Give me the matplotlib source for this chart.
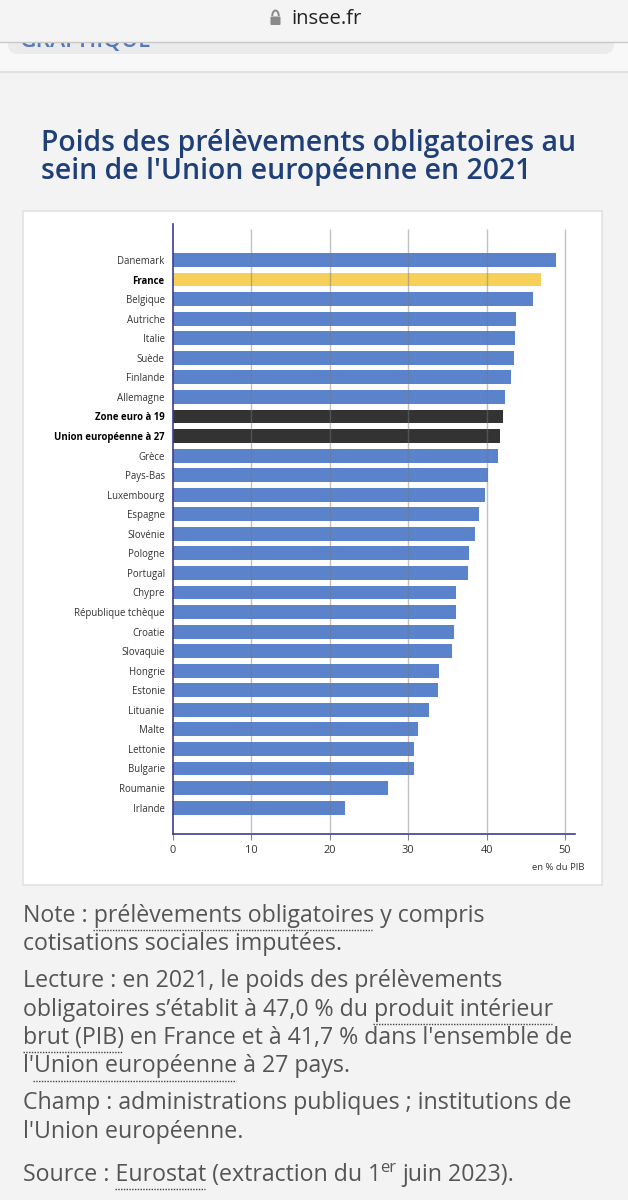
import matplotlib.pyplot as plt
import matplotlib.patches as patches

# Data, from top to bottom
pays = ['Danemark', 'France', 'Belgique', 'Autriche', 'Italie', 'Suède', 'Finlande', 'Allemagne',
        'Zone euro à 19', 'Union européenne à 27', 'Grèce', 'Pays-Bas', 'Luxembourg', 'Espagne',
        'Slovénie', 'Pologne', 'Portugal', 'Chypre', 'République tchèque', 'Croatie', 'Slovaquie',
        'Hongrie', 'Estonie', 'Lituanie', 'Malte', 'Lettonie', 'Bulgarie', 'Roumanie', 'Irlande']
valeurs = [48.8, 47.0, 45.9, 43.8, 43.6, 43.5, 43.1, 42.4, 42.1, 41.7, 41.5, 40.2, 39.8, 39.0,
           38.5, 37.8, 37.6, 36.1, 36.1, 35.8, 35.6, 33.9, 33.8, 32.6, 31.2, 30.7, 30.7, 27.4, 22.0]
en_gras = ['France', 'Zone euro à 19', 'Union européenne à 27']
ticks = [0, 10, 20, 30, 40, 50]

W, H = 628, 1200
FONT = 'Open Sans'
BG = '#f3f3f3'

plt.rcParams['font.family'] = [FONT, 'DejaVu Sans']

fig = plt.figure(figsize=(W / 100, H / 100), dpi=100, facecolor=BG)

# Overlay in pixel coordinates for the page around the chart
page = fig.add_axes([0, 0, 1, 1])
page.set(xlim=(0, W), ylim=(H, 0))
page.axis('off')

# Phone browser header
page.add_patch(patches.Rectangle((0, 42), W, 30, facecolor='#f8f8f8', edgecolor='none'))
page.add_patch(patches.FancyBboxPatch((8, 30), 606, 24, boxstyle='round,pad=0,rounding_size=10',
                                      facecolor='#ebebeb', edgecolor='none'))
page.text(20, 47, 'GRAPHIQUE', color='#5577bb', fontsize=16.4, fontweight='semibold', va='baseline')
page.add_patch(patches.Rectangle((0, 0), W, 42, facecolor='#f4f4f4', edgecolor='none', zorder=3))
page.plot([0, W], [42, 42], color='#c9c9c9', lw=1, zorder=4)
page.plot([0, W], [72, 72], color='#dedede', lw=1.2, zorder=4)
page.add_patch(patches.FancyBboxPatch((270.5, 16.5), 10, 8.5, boxstyle='round,pad=0,rounding_size=1',
                                      facecolor='#8a8a8a', edgecolor='none', zorder=4))
page.add_patch(patches.Arc((275.5, 16), 6.5, 11, theta1=180, theta2=360, color='#8a8a8a', lw=1.4, zorder=4))
page.text(291, 24, 'insee.fr', color='#222222', fontsize=14.6, va='baseline', zorder=4)

# Title
page.text(41, 151, 'Poids des prélèvements obligatoires au', color='#1f3f78', fontsize=20.4,
          fontweight='semibold', va='baseline')
page.text(41, 179, "sein de l'Union européenne en 2021", color='#1f3f78', fontsize=20.4,
          fontweight='semibold', va='baseline')

# White panel behind the chart
page.add_patch(patches.Rectangle((23, 211), 579, 674, facecolor='white', edgecolor='#e2e2e2', lw=1.2))

# Notes under the chart
notes = [(23, 922, 'Note : prélèvements obligatoires y compris'),
         (23, 950, 'cotisations sociales imputées.'),
         (23, 987, 'Lecture : en 2021, le poids des prélèvements'),
         (23, 1016, 'obligatoires s’établit à 47,0 % du produit intérieur'),
         (23, 1044, "brut (PIB) en France et à 41,7 % dans l'ensemble de"),
         (23, 1072, "l'Union européenne à 27 pays."),
         (23, 1109, 'Champ : administrations publiques ; institutions de'),
         (23, 1138, "l'Union européenne."),
         (23, 1181, 'Source : Eurostat (extraction du 1')]
for x, y, line in notes:
    page.text(x, y, line, color='#555555', fontsize=16.62, va='baseline')
page.text(380, 1172, 'er', color='#555555', fontsize=12, va='baseline')
page.text(402, 1181, 'juin 2023).', color='#555555', fontsize=16.62, va='baseline')

# Dotted underlines of the glossary links
for x0, x1, y in [(93, 372, 930), (373, 552, 1024), (23, 123, 1052), (33, 236, 1081), (115, 205, 1189)]:
    page.plot([x0, x1], [y, y], color='#444444', lw=1, ls=(0, (1, 1)))

# Chart: 0 is at x=173 and 50 at x=565, the first and last bars at y=260 and y=807.6
px_per_unit = (565 - 173) / 50
row = (807.6 - 260) / 28
x_right = 575
ax_top, ax_bottom = 224, 834
ax = fig.add_axes([173 / W, 1 - ax_bottom / H, (x_right - 173) / W, (ax_bottom - ax_top) / H])
ax.patch.set_alpha(0)
ax.set_xlim(0, (x_right - 173) / px_per_unit)
ax.set_ylim((ax_bottom - 260) / row, -(260 - ax_top) / row)

couleurs = []
for p in pays:
    if p == 'France':
        couleurs.append('#f6d058')
    elif p in en_gras:
        couleurs.append('#333333')
    else:
        couleurs.append('#5b83cc')
ax.barh(range(len(pays)), valeurs, height=0.71, color=couleurs, zorder=2)

# Grid lines sit over the bars and stop a little under the top of the axis
ax.vlines(ticks[1:], (ax_bottom - 260) / row, -(260 - 229) / row, color='#777777', lw=1, alpha=0.45, zorder=3)

for s in ['top', 'right']:
    ax.spines[s].set_visible(False)
for s in ['left', 'bottom']:
    ax.spines[s].set_color('#3f3d8f')
    ax.spines[s].set_linewidth(1.2)

ax.set_xticks(ticks)
ax.set_xticklabels([str(t) for t in ticks], fontsize=7.9, color='#333333')
ax.tick_params(axis='x', length=4, width=0.8, color='#888888', pad=4)
ax.set_yticks(range(len(pays)))
ax.set_yticklabels(pays, fontsize=6.95, color='#333333')
ax.tick_params(axis='y', length=0, pad=6)
for lab in ax.get_yticklabels():
    if lab.get_text() in en_gras:
        lab.set_fontweight('bold')
        lab.set_color('black')

page.text(584, 867, 'en % du PIB', color='#333333', fontsize=6.8, ha='right', va='center')

fig.savefig('out.png', dpi=100, facecolor=BG)
